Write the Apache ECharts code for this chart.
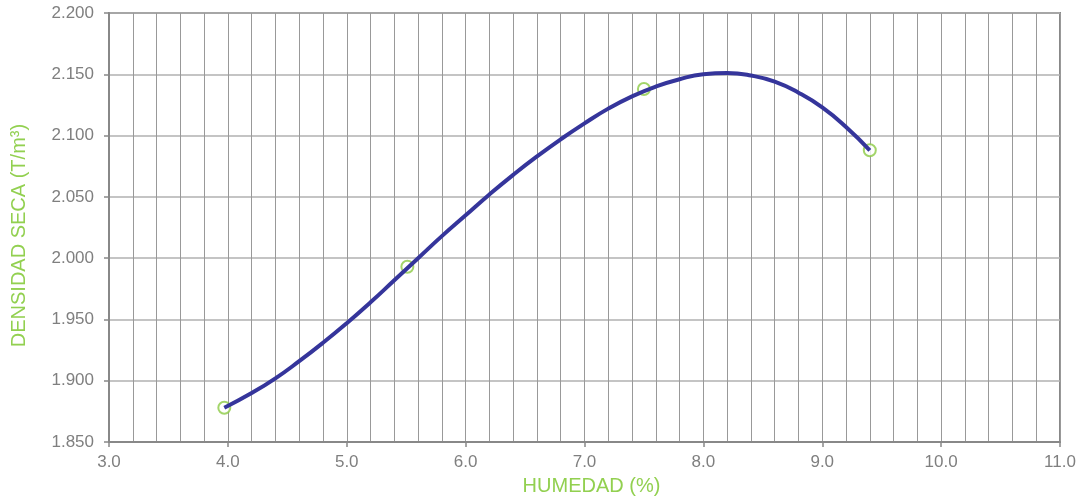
<!DOCTYPE html>
<html>
<head>
<meta charset="utf-8">
<script src="https://cdn.jsdelivr.net/npm/echarts@6/dist/echarts.min.js"></script>
<style>
  html, body { margin: 0; padding: 0; background: #fff; }
  #chart { width: 1080px; height: 501px; }
</style>
</head>
<body>
<div id="chart"></div>
<script>
// puntos del ensayo proctor
var humedad = [3.97, 5.51, 7.50, 9.40];
var densidad = [1.878, 1.993, 2.138, 2.088];

// curva de ajuste
var curvaX = [3.97, 4.2, 4.4, 4.6, 4.8, 5.0, 5.2, 5.4, 5.6, 5.8, 6.0, 6.2, 6.4, 6.6, 6.8,
  7.0, 7.2, 7.4, 7.6, 7.8, 8.0, 8.2, 8.4, 8.6, 8.8, 9.0, 9.2, 9.4];
var curvaY = [1.878, 1.890, 1.902, 1.916, 1.931, 1.947, 1.964, 1.982, 2.000, 2.018, 2.035,
  2.052, 2.068, 2.083, 2.097, 2.110, 2.122, 2.132, 2.140, 2.146, 2.150, 2.151, 2.149,
  2.144, 2.135, 2.123, 2.107, 2.088];

var fuente = "'Liberation Sans', Arial, sans-serif";
var gris = "#7f7f7f";
var verde = "#92d050";

var myChart = echarts.init(document.getElementById("chart"), null, { renderer: "canvas" });

var puntos = humedad.map(function (h, i) { return [h, densidad[i]]; });
var curva = curvaX.map(function (x, i) { return [x, curvaY[i]]; });

var option = {
  animation: false,
  backgroundColor: "#fff",
  grid: {
    left: 109,
    right: 20,
    top: 13,
    bottom: 53,
    show: true,
    borderColor: "#888",
    borderWidth: 2,
  },
  xAxis: {
    type: "value",
    min: 3,
    max: 11,
    interval: 1,
    name: "HUMEDAD (%)",
    nameLocation: "middle",
    nameGap: 30,
    nameTextStyle: { color: verde, fontSize: 20, fontFamily: fuente, padding: [0, 0, 0, 14] },
    axisLine: { show: true, lineStyle: { color: "#888", width: 2 } },
    axisTick: { show: true, length: 5, lineStyle: { color: "#888", width: 1.5 } },
    axisLabel: {
      color: gris,
      fontSize: 17,
      fontFamily: fuente,
      margin: 12,
      formatter: function (v) { return v.toFixed(1); },
    },
    splitLine: { show: true, lineStyle: { color: "#999", width: 1 } },
    minorTick: { show: false, splitNumber: 5 },
    minorSplitLine: { show: true, lineStyle: { color: "#999", width: 1 } },
  },
  yAxis: {
    type: "value",
    min: 1.85,
    max: 2.2,
    interval: 0.05,
    name: "DENSIDAD SECA (T/m³)",
    nameLocation: "middle",
    nameGap: 80,
    nameTextStyle: { color: verde, fontSize: 20, fontFamily: fuente, padding: [0, 16, 0, 0] },
    axisLine: { show: true, lineStyle: { color: "#888", width: 2 } },
    axisTick: { show: true, length: 5, lineStyle: { color: "#888", width: 1.5 } },
    axisLabel: {
      color: gris,
      fontSize: 17,
      fontFamily: fuente,
      margin: 15,
      formatter: function (v) { return v.toFixed(3); },
    },
    splitLine: { show: true, lineStyle: { color: "#b0b0b0", width: 1.5 } },
  },
  series: [
    {
      name: "puntos",
      type: "scatter",
      data: puntos,
      symbol: "emptyCircle",
      symbolSize: 12,
      itemStyle: { color: "#8ccb45", borderColor: "#8ccb45", borderWidth: 2.2 },
      z: 2,
    },
    {
      name: "curva",
      type: "line",
      data: curva,
      smooth: 0.5,
      showSymbol: false,
      lineStyle: { color: "#35359b", width: 4 },
      z: 3,
    },
  ],
};

myChart.setOption(option);
window.addEventListener("resize", myChart.resize);
</script>
</body>
</html>
